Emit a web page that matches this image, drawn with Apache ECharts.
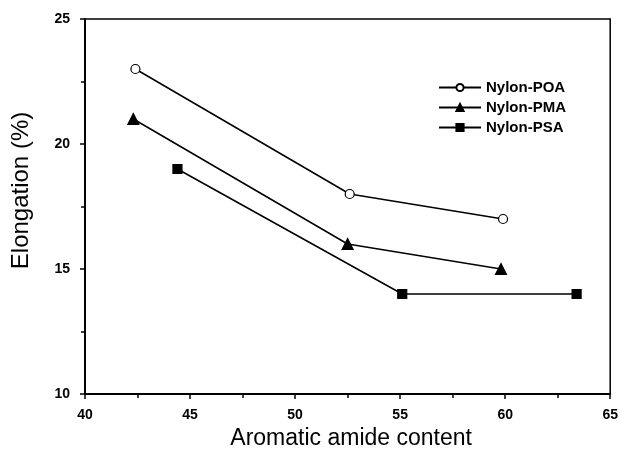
<!DOCTYPE html>
<html><head><meta charset="utf-8">
<script src="https://cdn.jsdelivr.net/npm/echarts@6/dist/echarts.min.js"></script>
<style>html,body{margin:0;padding:0;background:#fff}#c{width:621px;height:457px}</style>
</head><body><div id="c"></div>
<script>
const seriesNames = ['Nylon-POA', 'Nylon-PMA', 'Nylon-PSA'];
const xPOA = [42.4, 52.6, 59.9];
const yPOA = [23, 18, 17];
const xPMA = [42.3, 52.5, 59.8];
const yPMA = [21, 16, 15];
const xPSA = [44.4, 55.1, 63.4];
const yPSA = [19, 14, 14];
const xTicks = [40, 45, 50, 55, 60, 65];
const yTicks = [10, 15, 20, 25];

const FONT = '"Liberation Sans", Arial, sans-serif';
const pair = (xs, ys) => xs.map((x, i) => [x, ys[i]]);
const chart = echarts.init(document.getElementById('c'), null, {renderer: 'canvas'});
const mk = (name, xs, ys, symbol, fill) => ({
  name, type: 'line', data: pair(xs, ys), symbol, symbolSize: symbol === 'triangle' ? 11 : 9,
  showSymbol: true,
  lineStyle: {color: '#000', width: 1.5},
  itemStyle: {color: fill, borderColor: '#000', borderWidth: 1.2},
  emphasis: {disabled: true}, animation: false
});
chart.setOption({
  animation: false,
  backgroundColor: '#fff',
  grid: {left: 85, right: 9, top: 19, bottom: 63, show: true, borderColor: '#000', borderWidth: 1.5},
  legend: {
    orient: 'vertical', left: 433, top: 75, itemGap: 5, itemWidth: 42, itemHeight: 9,
    textStyle: {fontFamily: FONT, fontSize: 15, fontWeight: 'bold', color: '#000'},
    data: seriesNames
  },
  xAxis: {
    type: 'value', min: xTicks[0], max: xTicks[xTicks.length - 1], interval: 5,
    name: 'Aromatic amide content', nameLocation: 'middle', nameGap: 32,
    nameTextStyle: {fontFamily: FONT, fontSize: 23, color: '#000', padding: [0, 0, 0, 7]},
    axisLine: {show: true, lineStyle: {color: '#000', width: 2}},
    axisTick: {show: true, length: 5, lineStyle: {color: '#000', width: 1.5}},
    minorTick: {show: true, splitNumber: 2, length: 4, lineStyle: {color: '#000', width: 1.5}},
    axisLabel: {fontFamily: FONT, fontSize: 14, fontWeight: 'bold', color: '#000', margin: 14},
    splitLine: {show: false}
  },
  yAxis: {
    type: 'value', min: yTicks[0], max: yTicks[yTicks.length - 1], interval: 5,
    name: 'Elongation (%)', nameLocation: 'middle', nameGap: 52,
    nameTextStyle: {fontFamily: FONT, fontSize: 24, color: '#000', padding: [0, 0, 0, 32]},
    axisLine: {show: true, lineStyle: {color: '#000', width: 2}},
    axisTick: {show: true, length: 5, lineStyle: {color: '#000', width: 1.5}},
    minorTick: {show: true, splitNumber: 2, length: 4, lineStyle: {color: '#000', width: 1.5}},
    axisLabel: {fontFamily: FONT, fontSize: 14, fontWeight: 'bold', color: '#000', margin: 15},
    splitLine: {show: false}
  },
  series: [
    mk(seriesNames[0], xPOA, yPOA, 'circle', '#fff'),
    mk(seriesNames[1], xPMA, yPMA, 'triangle', '#000'),
    mk(seriesNames[2], xPSA, yPSA, 'rect', '#000')
  ]
});
</script></body></html>
